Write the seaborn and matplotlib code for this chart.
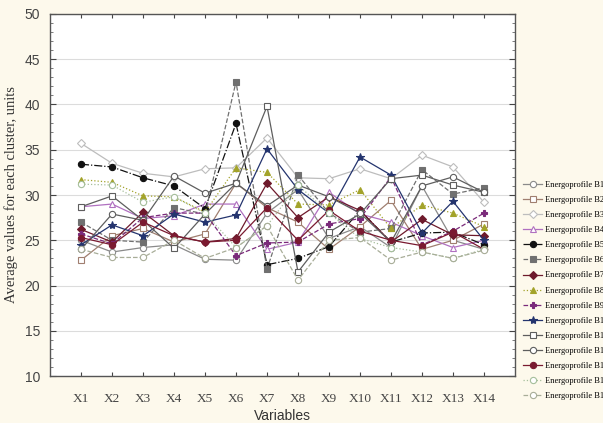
import numpy as np
import pandas as pd
import matplotlib
matplotlib.use('Agg')
import matplotlib.pyplot as plt
import seaborn as sns

# 변수 (x축)
variables = ['X1', 'X2', 'X3', 'X4', 'X5', 'X6', 'X7', 'X8', 'X9', 'X10', 'X11', 'X12', 'X13', 'X14']
x_pos = list(range(1, len(variables) + 1))

# 클러스터별 평균값
b1 = [25.0, 23.7, 24.2, 24.5, 22.9, 22.8, 28.0, 30.6, 25.2, 26.5, 24.2, 31.0, 25.0, 24.0]
b2 = [22.8, 25.5, 26.3, 24.8, 25.7, 31.3, 28.6, 27.0, 24.0, 26.5, 29.4, 24.0, 25.0, 26.8]
b3 = [35.7, 33.5, 32.4, 32.0, 32.9, 33.0, 36.3, 31.9, 31.8, 32.9, 31.8, 34.4, 33.1, 29.2]
b4 = [28.7, 29.0, 27.4, 27.7, 29.0, 29.0, 24.0, 24.8, 30.3, 27.9, 27.0, 25.5, 24.2, 25.0]
b5 = [33.4, 33.1, 31.9, 31.0, 28.5, 37.9, 22.3, 23.0, 24.3, 28.3, 24.8, 25.8, 25.9, 24.5]
b6 = [27.0, 25.0, 24.8, 28.6, 27.9, 42.5, 21.8, 32.2, 28.0, 25.9, 26.3, 32.8, 30.1, 30.8]
b7 = [26.2, 24.8, 28.1, 25.5, 24.8, 25.2, 31.3, 27.5, 29.8, 28.3, 24.8, 27.3, 25.6, 25.5]
b8 = [31.7, 31.4, 29.9, 29.8, 28.1, 33.0, 32.5, 29.0, 28.9, 30.6, 26.3, 28.9, 28.0, 26.5]
b9 = [25.7, 24.6, 27.5, 28.0, 28.0, 23.3, 24.7, 24.8, 26.8, 27.4, 32.0, 24.5, 26.0, 28.0]
b10 = [24.5, 26.7, 25.5, 27.9, 27.0, 27.8, 35.1, 30.6, 28.0, 34.2, 32.2, 25.8, 29.3, 25.0]
b11 = [28.7, 29.9, 27.2, 24.1, 27.9, 31.3, 39.8, 21.5, 25.9, 27.9, 31.8, 32.2, 31.1, 30.3]
b12 = [24.0, 27.9, 27.2, 32.1, 30.2, 31.3, 28.8, 31.1, 29.8, 28.0, 24.8, 31.0, 32.0, 30.3]
b13 = [25.3, 24.5, 27.0, 25.5, 24.8, 25.0, 28.6, 25.0, 28.3, 26.0, 25.0, 24.4, 25.9, 24.0]
b14 = [31.2, 31.1, 29.2, 29.8, 28.0, 24.2, 26.6, 31.1, 28.0, 25.2, 24.2, 23.7, 23.0, 24.0]
b15 = [24.0, 23.1, 23.1, 25.0, 23.0, 24.2, 26.6, 20.6, 25.0, 25.3, 22.8, 23.7, 23.0, 23.9]

series = [b1, b2, b3, b4, b5, b6, b7, b8, b9, b10, b11, b12, b13, b14, b15]
labels = ['Energoprofile B' + str(i) for i in range(1, 16)]

# 스타일: (색, 마커, 선스타일, 채움여부)
styles = [
    ('#8a8a8a', 'o', '-', False),
    ('#a07f70', 's', '-', False),
    ('#bdbdbd', 'D', '-', False),
    ('#b070c0', '^', '-', False),
    ('#111111', 'o', '-.', True),
    ('#707070', 's', '--', True),
    ('#6e1a2c', 'D', '-', True),
    ('#a3a32a', '^', ':', True),
    ('#7a2a7a', 'P', '--', True),
    ('#24346e', '*', '-', True),
    ('#5e5e5e', 's', '-', False),
    ('#5e5e5e', 'o', '-', False),
    ('#7a1a30', 'o', '-', True),
    ('#a6bf9c', 'o', ':', False),
    ('#a8ad98', 'o', '--', False),
]

plt.rcParams['font.family'] = ['Liberation Sans', 'DejaVu Sans']

fig = plt.figure(figsize=(6.03, 4.23), dpi=100, facecolor='#fdf9ec')
ax = fig.add_axes([0.083, 0.111, 0.771, 0.856])
ax.set_facecolor('white')

for vals, lab, (c, m, ls, filled) in zip(series, labels, styles):
    sns.lineplot(x=x_pos, y=vals, ax=ax, color=c, marker=m, linestyle=ls,
                 linewidth=0.9, markersize=4.5 if m != '*' else 6,
                 markerfacecolor=c if filled else 'white', markeredgecolor=c,
                 markeredgewidth=0.8, label=lab)

ax.set_xlim(0, 15)
ax.set_ylim(10, 50)
ax.set_xticks(x_pos)
ax.set_xticklabels(variables, family=['Liberation Serif'], fontsize=9.5)
ax.set_xticks([2, 4, 6, 8, 10, 12, 14], minor=True)
ax.set_yticks(np.arange(10, 51, 5))
ax.set_yticks(np.arange(10, 51, 1), minor=True)
ax.tick_params(axis='y', which='major', direction='in', length=4, labelsize=10,
               right=True, pad=7, colors='#444444')
ax.tick_params(axis='y', which='minor', direction='in', length=2, right=True, colors='#666666')
ax.tick_params(axis='x', which='major', direction='in', length=3, top=True, pad=12,
               colors='#444444')
ax.tick_params(axis='x', which='minor', length=0, top=False)
ax.grid(axis='y', which='major', color='#dcdcdc', linewidth=0.8)
ax.grid(axis='x', which='minor', color='#dcdcdc', linewidth=0.8)
ax.set_axisbelow(True)
for sp in ax.spines.values():
    sp.set_color('#555555')
    sp.set_linewidth(1.0)

ax.set_xlabel('Variables', fontsize=10, labelpad=3, color='#333333')
ax.set_ylabel('Average values for each cluster, units', fontsize=10.5,
              family=['Liberation Serif'], labelpad=5, color='#333333')

ax.legend(loc='upper left', bbox_to_anchor=(0.862, 0.58), bbox_transform=fig.transFigure,
          frameon=False, prop={'family': 'Liberation Serif', 'size': 6},
          handlelength=2.3, handletextpad=0.35, labelspacing=0.85, borderaxespad=0)

fig.savefig('out.png', dpi=100, facecolor=fig.get_facecolor())
